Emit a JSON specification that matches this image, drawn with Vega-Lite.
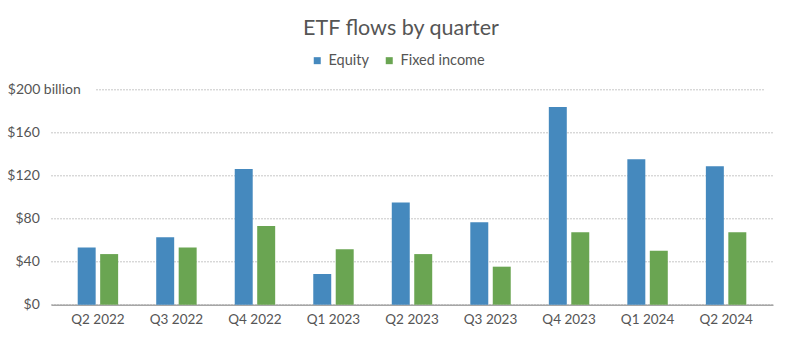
{
  "$schema": "https://vega.github.io/schema/vega-lite/v6.json",
  "width": 722,
  "height": 215.4,
  "autosize": {"type": "none"},
  "padding": {"left": 51, "top": 89.3, "right": 27, "bottom": 40.3},
  "background": "white",
  "title": {
    "text": "ETF flows by quarter",
    "font": "Lato",
    "fontSize": 21.5,
    "fontWeight": "normal",
    "color": "#555555",
    "anchor": "middle",
    "dx": -11,
    "offset": 14
  },
  "data": {
    "values": [
      {"quarter": "Q2 2022", "type": "Equity", "value": 53},
      {"quarter": "Q2 2022", "type": "Fixed income", "value": 47},
      {"quarter": "Q3 2022", "type": "Equity", "value": 62.6},
      {"quarter": "Q3 2022", "type": "Fixed income", "value": 53},
      {"quarter": "Q4 2022", "type": "Equity", "value": 126},
      {"quarter": "Q4 2022", "type": "Fixed income", "value": 73},
      {"quarter": "Q1 2023", "type": "Equity", "value": 28.5},
      {"quarter": "Q1 2023", "type": "Fixed income", "value": 51.4},
      {"quarter": "Q2 2023", "type": "Equity", "value": 95},
      {"quarter": "Q2 2023", "type": "Fixed income", "value": 47},
      {"quarter": "Q3 2023", "type": "Equity", "value": 76.5},
      {"quarter": "Q3 2023", "type": "Fixed income", "value": 35.3},
      {"quarter": "Q4 2023", "type": "Equity", "value": 183.6},
      {"quarter": "Q4 2023", "type": "Fixed income", "value": 67.2},
      {"quarter": "Q1 2024", "type": "Equity", "value": 135},
      {"quarter": "Q1 2024", "type": "Fixed income", "value": 50.1},
      {"quarter": "Q2 2024", "type": "Equity", "value": 128.5},
      {"quarter": "Q2 2024", "type": "Fixed income", "value": 67.2}
    ]
  },
  "mark": {"type": "bar"},
  "encoding": {
    "x": {
      "field": "quarter",
      "type": "nominal",
      "sort": null,
      "scale": {"paddingInner": 0.485, "paddingOuter": 0.34},
      "axis": {
        "title": null,
        "labelAngle": 0,
        "ticks": false,
        "domainColor": "#a6a6a6",
        "domainWidth": 1.6,
        "labelPadding": 8,
        "labelFont": "Lato",
        "labelFontSize": 13.5,
        "labelColor": "#555555"
      }
    },
    "xOffset": {
      "field": "type",
      "type": "nominal",
      "scale": {"paddingInner": 0.2}
    },
    "y": {
      "field": "value",
      "type": "quantitative",
      "scale": {"domain": [0, 200], "nice": false},
      "axis": {
        "title": null,
        "values": [0, 40, 80, 120, 160, 200],
        "labelExpr": "datum.value == 200 ? '$200 billion' : '$' + datum.value",
        "domain": false,
        "ticks": false,
        "labelFont": "Lato",
        "labelFontSize": 14,
        "labelColor": "#555555",
        "labelAlign": {"condition": {"test": "datum.value == 200", "value": "left"}, "value": "right"},
        "labelPadding": {"condition": {"test": "datum.value == 200", "value": 43.7}, "value": 11.7},
        "grid": true,
        "gridColor": "#8f8f8f",
        "gridWidth": 1,
        "gridDash": {"condition": {"test": "datum.value == 200", "value": [0,45,1,2,1,2,1,2,1,2,1,2,1,2,1,2,1,2,1,2,1,2,1,2,1,2,1,2,1,2,1,2,1,2,1,2,1,2,1,2,1,2,1,2,1,2,1,2,1,2,1,2,1,2,1,2,1,2,1,2,1,2,1,2,1,2,1,2,1,2,1,2,1,2,1,2,1,2,1,2,1,2,1,2,1,2,1,2,1,2,1,2,1,2,1,2,1,2,1,2,1,2,1,2,1,2,1,2,1,2,1,2,1,2,1,2,1,2,1,2,1,2,1,2,1,2,1,2,1,2,1,2,1,2,1,2,1,2,1,2,1,2,1,2,1,2,1,2,1,2,1,2,1,2,1,2,1,2,1,2,1,2,1,2,1,2,1,2,1,2,1,2,1,2,1,2,1,2,1,2,1,2,1,2,1,2,1,2,1,2,1,2,1,2,1,2,1,2,1,2,1,2,1,2,1,2,1,2,1,2,1,2,1,2,1,2,1,2,1,2,1,2,1,2,1,2,1,2,1,2,1,2,1,2,1,2,1,2,1,2,1,2,1,2,1,2,1,2,1,2,1,2,1,2,1,2,1,2,1,2,1,2,1,2,1,2,1,2,1,2,1,2,1,2,1,2,1,2,1,2,1,2,1,2,1,2,1,2,1,2,1,2,1,2,1,2,1,2,1,2,1,2,1,2,1,2,1,2,1,2,1,2,1,2,1,2,1,2,1,2,1,2,1,2,1,2,1,2,1,2,1,2,1,2,1,2,1,2,1,2,1,2,1,2,1,2,1,2,1,2,1,2,1,2,1,2,1,2,1,2,1,2,1,2,1,2,1,2,1,2,1,2,1,2,1,2,1,2,1,2,1,2,1,2,1,2,1,2,1,2,1,2,1,2,1,2,1,2,1,2,1,2,1,2,1,2,1,2,1,2,1,2,1,2,1,2,1,2,1,2,1,2,1,2,1,2,1,2,1,2,1,2,1,2,1,2,1,2,1,2,1,2,1,2,1,2,1,2]}, "value": [1, 2]}
      }
    },
    "color": {
      "field": "type",
      "type": "nominal",
      "scale": {"domain": ["Equity", "Fixed income"], "range": ["#4589be", "#6aa552"]},
      "legend": {
        "title": null,
        "orient": "none",
        "direction": "horizontal",
        "legendX": 259,
        "legendY": -36,
        "symbolType": "square",
        "symbolSize": 49,
        "symbolStrokeWidth": 0,
        "labelFont": "Lato",
        "labelFontSize": 14.5,
        "labelColor": "#555555",
        "labelOffset": 4,
        "columnPadding": 13
      }
    }
  },
  "config": {
    "view": {"stroke": null}
  }
}
